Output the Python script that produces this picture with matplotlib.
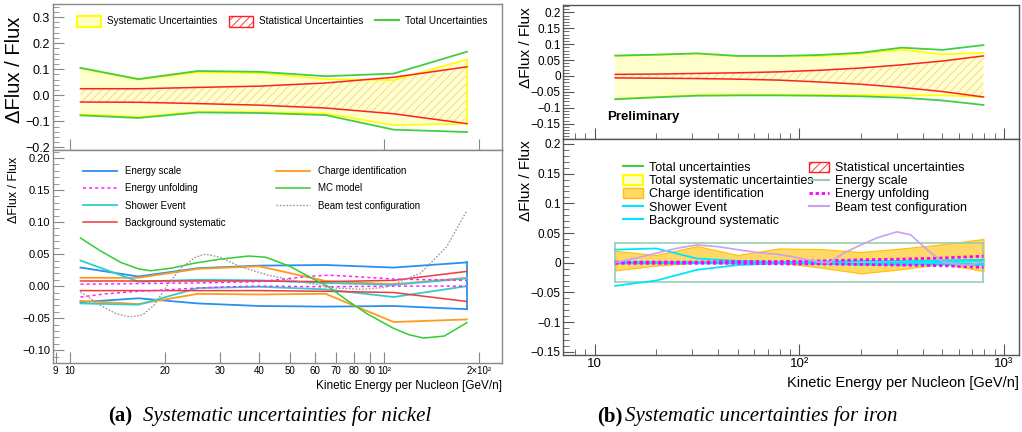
import matplotlib.pyplot as plt
from matplotlib.patches import Patch
from matplotlib.lines import Line2D
from matplotlib.ticker import MultipleLocator, FixedLocator, FixedFormatter, NullLocator, LogLocator, NullFormatter

plt.rcParams['font.family'] = ['Liberation Sans', 'DejaVu Sans']
plt.rcParams['hatch.linewidth'] = 0.6

# ---------------- nickel (left) ----------------
ni_E = [10.8, 16.5, 25.5, 40, 65, 107, 183]
ni_tot_hi = [0.105, 0.062, 0.093, 0.090, 0.073, 0.083, 0.167]
ni_tot_lo = [-0.077, -0.087, -0.066, -0.068, -0.076, -0.132, -0.141]
ni_sys_hi = [0.103, 0.060, 0.088, 0.085, 0.062, 0.058, 0.137]
ni_sys_lo = [-0.073, -0.083, -0.063, -0.064, -0.070, -0.115, -0.109]
ni_stat_hi = [0.025, 0.025, 0.030, 0.035, 0.047, 0.069, 0.109]
ni_stat_lo = [-0.026, -0.027, -0.032, -0.038, -0.049, -0.071, -0.109]

ni_escale_hi = [0.029, 0.015, 0.028, 0.032, 0.033, 0.029, 0.037]
ni_escale_lo = [-0.025, -0.019, -0.027, -0.031, -0.032, -0.031, -0.036]
ni_charge_hi = [0.013, 0.013, 0.027, 0.031, 0.008, 0.003, 0.013]
ni_charge_lo = [-0.023, -0.028, -0.012, -0.013, -0.012, -0.056, -0.052]
ni_shower_hi = [0.040, 0.007, 0.010, 0.009, 0.005, 0.002, 0.012]
ni_shower_lo = [-0.027, -0.029, -0.003, -0.001, -0.005, -0.017, 0.000]
ni_bkg_hi = [0.008, 0.008, 0.008, 0.008, 0.007, 0.009, 0.023]
ni_bkg_lo = [-0.007, -0.007, -0.007, -0.007, -0.008, -0.010, -0.024]

ni_unf_E_hi = [10.8, 16.5, 25.5, 40, 50, 60, 67, 80, 107, 183]
ni_unf_hi = [0.003, 0.004, 0.005, 0.007, 0.012, 0.016, 0.017, 0.015, 0.011, 0.009]
ni_unf_E_lo = [10.8, 13, 16.5, 20, 25.5, 32, 40, 65, 107, 183]
ni_unf_lo = [-0.017, -0.012, -0.008, -0.006, -0.003, -0.001, 0.000, -0.001, 0.000, 0.000]

ni_mc_E = [10.8, 12.5, 14.5, 16.5, 18, 21, 25, 30, 37, 42, 50, 60, 66, 76, 88, 107, 120, 133, 155, 183]
ni_mc = [0.075, 0.055, 0.037, 0.027, 0.024, 0.028, 0.036, 0.042, 0.047, 0.045, 0.031, 0.010,
         0.000, -0.022, -0.043, -0.066, -0.076, -0.081, -0.078, -0.057]

ni_beam_E = [10.8, 12.5, 14, 15.5, 17, 18.5, 20.3, 22.5, 25, 27, 30, 35, 42, 50, 60, 70, 85,
             100, 112, 130, 143, 158, 183]
ni_beam = [-0.009, -0.030, -0.043, -0.048, -0.045, -0.030, 0.000, 0.028, 0.045, 0.050, 0.045,
           0.030, 0.018, 0.010, 0.003, -0.003, -0.005, -0.002, 0.007, 0.020, 0.040, 0.062, 0.118]

ni_xticks = [9, 10, 20, 30, 40, 50, 60, 70, 80, 90, 100, 200]
ni_xticklabels = ['9', '10', '20', '30', '40', '50', '60', '70', '80', '90', '10\u00b2', '2\u00d710\u00b2']

# ---------------- iron (right) ----------------
fe_E = [12.6, 20, 31.6, 50, 79.4, 126, 200, 316, 501, 794]
fe_tot_hi = [0.064, 0.067, 0.071, 0.063, 0.063, 0.066, 0.073, 0.089, 0.082, 0.097]
fe_tot_lo = [-0.073, -0.067, -0.062, -0.061, -0.061, -0.062, -0.064, -0.068, -0.077, -0.091]
fe_sys_hi = [0.063, 0.066, 0.070, 0.062, 0.062, 0.062, 0.070, 0.083, 0.068, 0.073]
fe_sys_lo = [-0.072, -0.066, -0.060, -0.059, -0.059, -0.059, -0.060, -0.061, -0.061, -0.066]
fe_stat_hi = [0.005, 0.006, 0.008, 0.010, 0.013, 0.018, 0.025, 0.035, 0.047, 0.063]
fe_stat_lo = [-0.006, -0.007, -0.008, -0.010, -0.013, -0.019, -0.026, -0.036, -0.049, -0.066]

fe_escale_hi = [0.033] * 10
fe_escale_lo = [-0.033] * 10
fe_charge_hi = [0.020, 0.013, 0.028, 0.013, 0.024, 0.023, 0.018, 0.024, 0.031, 0.040]
fe_charge_lo = [-0.013, -0.005, 0.000, -0.001, 0.000, -0.008, -0.018, -0.011, -0.002, -0.014]
fe_shower_hi = [0.022, 0.024, 0.007, 0.003, 0.001, 0.000, -0.001, 0.000, 0.003, 0.003]
fe_shower_lo = [-0.039, -0.030, -0.012, -0.004, -0.001, 0.000, -0.003, -0.003, 0.000, -0.002]
fe_bkg_hi = [0.001, 0.001, 0.001, 0.001, 0.001, 0.002, 0.003, 0.003, 0.004, 0.005]
fe_bkg_lo = [-0.001, -0.001, -0.001, -0.001, -0.001, -0.002, -0.003, -0.003, -0.003, -0.004]
fe_unf_hi = [0.001, 0.001, 0.001, 0.002, 0.002, 0.003, 0.005, 0.006, 0.008, 0.011]
fe_unf_lo = [-0.001, -0.001, -0.001, -0.001, -0.002, -0.002, -0.003, -0.004, -0.005, -0.008]

fe_beam_E = [12.6, 16, 20, 25, 31.6, 40, 50, 63, 79, 100, 113, 126, 140, 164, 200, 240,
             300, 350, 420, 500, 600, 682, 794]
fe_beam = [0.000, 0.008, 0.016, 0.024, 0.030, 0.027, 0.022, 0.017, 0.014, 0.008, 0.004, 0.001,
           0.000, 0.016, 0.030, 0.042, 0.052, 0.047, 0.022, 0.002, -0.003, -0.004, 0.002]

fe_xticks = [10, 100, 1000]
fe_xticklabels = ['10', '10\u00b2', '10\u00b3']

W, H = 1022, 432
fig = plt.figure(figsize=(W / 100, H / 100), dpi=100)


def px_axes(x0, y0, x1, y1):
    return fig.add_axes([x0 / W, 1 - y1 / H, (x1 - x0) / W, (y1 - y0) / H])


def style(ax, color, lsize, pad):
    for s in ax.spines.values():
        s.set_color(color)
        s.set_linewidth(1)
    ax.tick_params(which='both', direction='in', color=color, top=False, right=False,
                   labelsize=lsize, pad=pad)
    ax.tick_params(which='major', length=8)
    ax.tick_params(which='minor', length=4.5)


# colours
c_sys, c_sysfill = '#ffff00', '#ffffcc'
c_stat, c_hatch = '#ff2020', '#f2d09a'
c_tot = '#44cc44'

# ---- left top ----
ax = px_axes(53, 4, 502, 150)
ax.set_xscale('log')
ax.fill_between(ni_E, ni_sys_lo, ni_sys_hi, facecolor=c_sysfill, edgecolor='none')
ax.fill_between(ni_E, ni_stat_lo, ni_stat_hi, facecolor='none', edgecolor=c_hatch,
                hatch='////', linewidth=0)
ax.plot(ni_E, ni_sys_hi, color=c_sys, lw=1.2)
ax.plot(ni_E, ni_sys_lo, color=c_sys, lw=1.2)
ax.plot([ni_E[-1], ni_E[-1]], [ni_sys_lo[-1], ni_sys_hi[-1]], color=c_sys, lw=1.2)
ax.plot(ni_E, ni_stat_hi, color=c_stat, lw=1.1)
ax.plot(ni_E, ni_stat_lo, color=c_stat, lw=1.1)
ax.plot(ni_E, ni_tot_hi, color=c_tot, lw=1.3)
ax.plot(ni_E, ni_tot_lo, color=c_tot, lw=1.3)
ax.set_xlim(8.83, 236.6)
ax.set_ylim(-0.21, 0.35)
style(ax, '#888888', 9, 2)
ax.xaxis.set_major_locator(FixedLocator([10, 100, 200]))
ax.xaxis.set_minor_locator(NullLocator())
ax.xaxis.set_major_formatter(NullFormatter())
ax.yaxis.set_major_locator(MultipleLocator(0.1))
ax.yaxis.set_minor_locator(MultipleLocator(0.02))
ax.yaxis.set_major_formatter(plt.FuncFormatter(lambda v, p: f'{v:.1f}'.replace('-', '\u2212')))
h = [Patch(facecolor=c_sysfill, edgecolor=c_sys, lw=1.5),
     Patch(facecolor='white', edgecolor=c_stat, hatch='////', lw=1),
     Line2D([], [], color=c_tot, lw=1.5)]
ax.legend(h, ['Systematic Uncertainties', 'Statistical Uncertainties', 'Total Uncertainties'],
          ncol=3, loc='upper left', bbox_to_anchor=(0.053, 0.92), frameon=False, fontsize=7.2,
          handlelength=2.4, handleheight=1.3, handletextpad=0.6, columnspacing=1.2,
          borderpad=0, borderaxespad=0)

# ---- left bottom ----
ax = px_axes(53, 150, 502, 363)
ax.set_xscale('log')
c_blue, c_orange, c_cyan, c_red = '#2a8fee', '#ff9a1a', '#33cccc', '#ee3a3a'
c_mag, c_green, c_gray = '#ff22ff', '#33cc33', '#999999'
l_es, = ax.plot(ni_E, ni_escale_hi, color=c_blue, lw=1.3)
ax.plot(ni_E, ni_escale_lo, color=c_blue, lw=1.3)
ax.plot([ni_E[-1], ni_E[-1]], [ni_escale_lo[-1], ni_escale_hi[-1]], color=c_blue, lw=1.3)
l_ch, = ax.plot(ni_E, ni_charge_hi, color=c_orange, lw=1.3)
ax.plot(ni_E, ni_charge_lo, color=c_orange, lw=1.3)
l_sh, = ax.plot(ni_E, ni_shower_hi, color=c_cyan, lw=1.3)
ax.plot(ni_E, ni_shower_lo, color=c_cyan, lw=1.3)
l_bk, = ax.plot(ni_E, ni_bkg_hi, color=c_red, lw=1.1)
ax.plot(ni_E, ni_bkg_lo, color=c_red, lw=1.1)
l_un, = ax.plot(ni_unf_E_hi, ni_unf_hi, color=c_mag, lw=1.1, ls=(0, (2, 2)))
ax.plot(ni_unf_E_lo, ni_unf_lo, color=c_mag, lw=1.1, ls=(0, (2, 2)))
l_mc, = ax.plot(ni_mc_E, ni_mc, color=c_green, lw=1.1)
l_bt, = ax.plot(ni_beam_E, ni_beam, color=c_gray, lw=1.0, ls=(0, (1.2, 1.2)))
ax.set_xlim(8.83, 236.6)
ax.set_ylim(-0.12, 0.2125)
style(ax, '#888888', 8, 2)
ax.tick_params(axis='x', labelsize=7, pad=2.5)
ax.xaxis.set_major_locator(FixedLocator(ni_xticks))
ax.xaxis.set_major_formatter(FixedFormatter(ni_xticklabels))
ax.xaxis.set_minor_locator(NullLocator())
ax.yaxis.set_major_locator(MultipleLocator(0.05))
ax.yaxis.set_minor_locator(MultipleLocator(0.01))
ax.yaxis.set_major_formatter(plt.FuncFormatter(lambda v, p: f'{v:.2f}'.replace('-', '\u2212')))
ax.legend([l_es, l_un, l_sh, l_bk, l_ch, l_mc, l_bt],
          ['Energy scale', 'Energy unfolding', 'Shower Event', 'Background systematic',
           'Charge identification', 'MC model', 'Beam test configuration'],
          ncol=2, loc='upper left', bbox_to_anchor=(0.067, 0.925), frameon=False, fontsize=7,
          handlelength=3.5, handletextpad=0.8, columnspacing=5.2, labelspacing=0.75,
          borderpad=0, borderaxespad=0)
ax.text(1.0, -0.08, 'Kinetic Energy per Nucleon [GeV/n]', transform=ax.transAxes,
        ha='right', va='top', fontsize=8.5)

# ---- right top ----
ax = px_axes(563, 5, 1019, 139)
ax.set_xscale('log')
ax.fill_between(fe_E, fe_sys_lo, fe_sys_hi, facecolor=c_sysfill, edgecolor='none')
ax.fill_between(fe_E, fe_stat_lo, fe_stat_hi, facecolor='none', edgecolor=c_hatch,
                hatch='////', linewidth=0)
ax.plot(fe_E, fe_sys_hi, color=c_sys, lw=1.2)
ax.plot(fe_E, fe_sys_lo, color=c_sys, lw=1.2)
ax.plot(fe_E, fe_stat_hi, color=c_stat, lw=1.1)
ax.plot(fe_E, fe_stat_lo, color=c_stat, lw=1.1)
ax.plot(fe_E, fe_tot_hi, color=c_tot, lw=1.3)
ax.plot(fe_E, fe_tot_lo, color=c_tot, lw=1.3)
ax.set_xlim(7.0, 1184)
ax.set_ylim(-0.198, 0.223)
style(ax, '#555555', 8.5, 1.5)
ax.xaxis.set_major_locator(LogLocator(base=10))
ax.xaxis.set_minor_locator(LogLocator(base=10, subs=range(2, 10)))
ax.xaxis.set_major_formatter(NullFormatter())
ax.xaxis.set_minor_formatter(NullFormatter())
ax.yaxis.set_major_locator(MultipleLocator(0.05))
ax.yaxis.set_minor_locator(MultipleLocator(0.01))
ax.yaxis.set_major_formatter(plt.FuncFormatter(lambda v, p: f'{round(v, 3):g}'.replace('-', '\u2212')))
ax.text(0.096, 0.164, 'Preliminary', transform=ax.transAxes, ha='left', va='center',
        fontsize=9.5, fontweight='bold')

# ---- right bottom ----
ax = px_axes(563, 139, 1019, 355)
ax.set_xscale('log')
c_fch, c_fchedge = '#ffd966', '#ffbf00'
c_fes, c_fcy, c_flav = '#99cdb3', '#00e5ff', '#c8a2f0'
ax.fill_between(fe_E, fe_charge_lo, fe_charge_hi, facecolor=c_fch, edgecolor=c_fchedge, lw=0.8)
ax.plot(fe_E, fe_escale_hi, color=c_fes, lw=1.2)
ax.plot(fe_E, fe_escale_lo, color=c_fes, lw=1.2)
ax.plot([fe_E[0], fe_E[0]], [fe_escale_lo[0], fe_escale_hi[0]], color=c_fes, lw=1.2)
ax.plot([fe_E[-1], fe_E[-1]], [fe_escale_lo[-1], fe_escale_hi[-1]], color=c_fes, lw=1.2)
ax.plot(fe_E, fe_shower_hi, color=c_fcy, lw=1.3)
ax.plot(fe_E, fe_shower_lo, color=c_fcy, lw=1.3)
ax.plot(fe_E, fe_bkg_hi, color=c_fcy, lw=1.3)
ax.plot(fe_E, fe_bkg_lo, color=c_fcy, lw=1.3)
ax.plot(fe_E, fe_unf_hi, color='#ff00ff', lw=2.0, ls=(0, (1.2, 1.0)))
ax.plot(fe_E, fe_unf_lo, color='#ff00ff', lw=2.0, ls=(0, (1.2, 1.0)))
ax.plot(fe_beam_E, fe_beam, color=c_flav, lw=1.2)
ax.set_xlim(7.0, 1184)
ax.set_ylim(-0.1555, 0.2084)
style(ax, '#555555', 8.5, 1.5)
ax.tick_params(axis='x', labelsize=9.5, pad=2.5)
ax.xaxis.set_minor_locator(LogLocator(base=10, subs=range(2, 10)))
ax.set_xticks(fe_xticks, fe_xticklabels)
ax.xaxis.set_minor_formatter(NullFormatter())
ax.yaxis.set_major_locator(MultipleLocator(0.05))
ax.yaxis.set_minor_locator(MultipleLocator(0.01))
ax.yaxis.set_major_formatter(plt.FuncFormatter(lambda v, p: f'{round(v, 3):g}'.replace('-', '\u2212')))
h = [Line2D([], [], color=c_tot, lw=1.5),
     Patch(facecolor=c_sysfill, edgecolor=c_sys, lw=1.5),
     Patch(facecolor=c_fch, edgecolor=c_fchedge, lw=1),
     Line2D([], [], color=c_fcy, lw=1.5),
     Line2D([], [], color=c_fcy, lw=1.5),
     Patch(facecolor='white', edgecolor=c_stat, hatch='////', lw=1),
     Line2D([], [], color=c_fes, lw=1.5),
     Line2D([], [], color='#ff00ff', lw=2, ls=(0, (1.2, 1.0))),
     Line2D([], [], color=c_flav, lw=1.5)]
ax.legend(h, ['Total uncertainties', 'Total systematic uncertainties', 'Charge identification',
              'Shower Event', 'Background systematic', 'Statistical uncertainties',
              'Energy scale', 'Energy unfolding', 'Beam test configuration'],
          ncol=2, loc='upper left', bbox_to_anchor=(0.1316, 0.895), frameon=False, fontsize=9,
          handlelength=1.6, handleheight=0.9, handletextpad=0.5, columnspacing=-0.4,
          labelspacing=0.05, borderpad=0, borderaxespad=0)
ax.text(1.0, -0.095, 'Kinetic Energy per Nucleon [GeV/n]', transform=ax.transAxes,
        ha='right', va='top', fontsize=10.5)

# y axis titles
fig.text(15 / W, 1 - 70 / H, '\u0394Flux / Flux', rotation=90, ha='center', va='center', fontsize=14.5)
fig.text(14 / W, 1 - 190 / H, '\u0394Flux / Flux', rotation=90, ha='center', va='center', fontsize=9)
fig.text(526 / W, 1 - 48 / H, '\u0394Flux / Flux', rotation=90, ha='center', va='center', fontsize=11)
fig.text(526 / W, 1 - 181 / H, '\u0394Flux / Flux', rotation=90, ha='center', va='center', fontsize=11)

# captions
fig.text(108 / W, 1 - 416 / H, '(a)', family='Liberation Serif', fontweight='bold',
         fontsize=15, ha='left', va='center')
fig.text(143 / W, 1 - 416 / H, 'Systematic uncertainties for nickel', family='Liberation Serif',
         style='italic', fontsize=15, ha='left', va='center')
fig.text(597 / W, 1 - 416 / H, '(b)', family='Liberation Serif', fontweight='bold',
         fontsize=15, ha='left', va='center')
fig.text(625 / W, 1 - 416 / H, 'Systematic uncertainties for iron', family='Liberation Serif',
         style='italic', fontsize=15, ha='left', va='center')

fig.savefig('out.png', dpi=100)
